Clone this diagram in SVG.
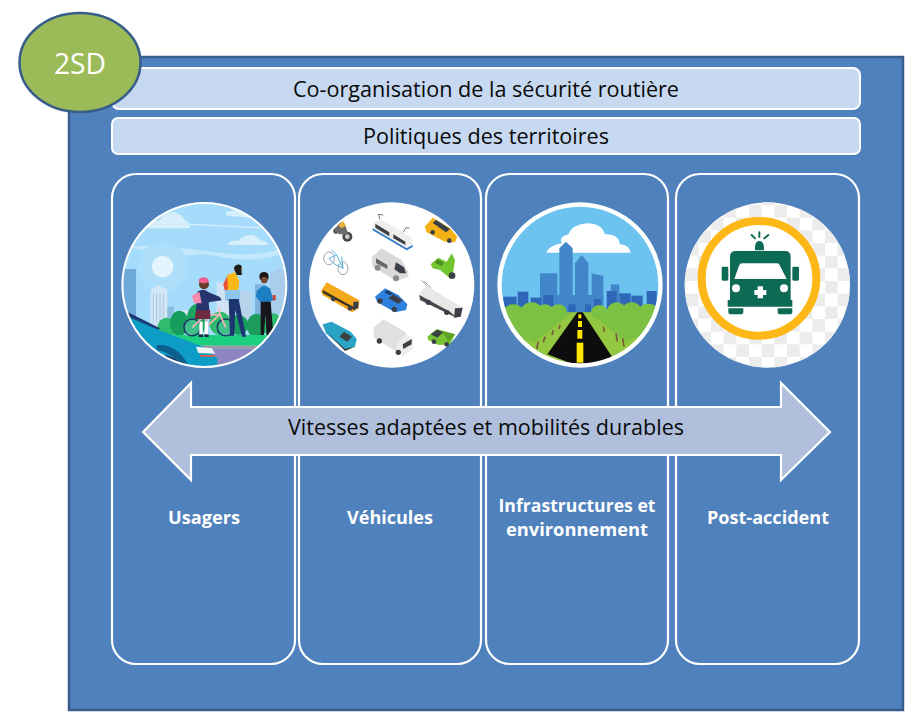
<svg xmlns="http://www.w3.org/2000/svg" width="911" height="718" viewBox="0 0 911 718">
<style>
.t{font-family:"Open Sans","Noto Sans","Liberation Sans",sans-serif;}
.bk{font-size:22px;fill:#0a0a0a;text-anchor:middle;}
.lb{font-size:18px;font-weight:700;fill:#fff;text-anchor:middle;}
.bar{fill:#c6d9f1;stroke:#fff;stroke-width:2;}
.col{fill:#4f81bd;stroke:#fff;stroke-width:2.2;}
.gl{fill:#3b3f46;}
.lg{fill:#e6e4e2;}
.wh{fill:#8b8b8b;}
.pic{filter:url(#soft);}
</style>
<defs>
<filter id="soft" x="-5%" y="-5%" width="110%" height="110%"><feGaussianBlur stdDeviation="1.4"/></filter>
<clipPath id="c1"><circle cx="283" cy="270" r="245"/></clipPath>
<clipPath id="c3"><circle cx="270" cy="270" r="235"/></clipPath>
<clipPath id="c4"><circle cx="277" cy="270" r="248"/></clipPath>
<pattern id="chk" x="222" y="30" width="76" height="76" patternUnits="userSpaceOnUse">
<rect width="38" height="38" fill="#ececec"/><rect x="38" y="38" width="38" height="38" fill="#ececec"/>
</pattern>
</defs>
<rect width="911" height="718" fill="#fff"/>
<g id="frame"><rect x="69" y="57" width="834" height="653" fill="#4f81bd" stroke="#385d8a" stroke-width="2.5"/></g>
<g id="bar-coorganisation"><rect class="bar" x="112" y="68" width="748" height="41" rx="7"/>
<text class="t bk" x="486" y="97" textLength="386" lengthAdjust="spacingAndGlyphs">Co-organisation de la sécurité routière</text></g>
<g id="bar-politiques"><rect class="bar" x="112" y="118" width="748" height="36" rx="6"/>
<text class="t bk" x="486" y="144" textLength="246" lengthAdjust="spacingAndGlyphs">Politiques des territoires</text></g>

<g id="col-usagers"><rect class="col" x="112" y="174" width="183" height="490" rx="24"/>
<text class="t lb" x="204" y="524" textLength="72" lengthAdjust="spacingAndGlyphs">Usagers</text>
<g transform="translate(110 195) scale(.33333)">
<g clip-path="url(#c1)"><g class="pic">
<rect x="30" y="20" width="510" height="500" fill="#a5dcfb"/>
<path d="M40 155C120 165 170 190 250 180S370 215 510 180L520 160C420 190 350 175 260 165S120 150 40 155Z" fill="#c4e8fb"/>
<circle cx="158" cy="215" r="75" fill="#aedffa"/><circle cx="158" cy="215" r="32" fill="#e2f4fc"/>
<path d="M100 100Q115 75 150 76Q165 50 195 52Q220 62 222 76Q240 78 240 100Z" fill="#d6effb"/>
<path d="M240 88L450 98" stroke="#d6effb" stroke-width="4"/>
<path d="M353 150Q360 135 385 137Q400 118 430 120Q450 130 452 136Q470 138 473 150Z" fill="#d6effb"/>
<path d="M347 52Q380 40 395 55L425 68 350 62Z" fill="#d6effb"/>
<rect x="40" y="222" width="38" height="170" fill="#6ea9da"/>
<rect x="480" y="235" width="45" height="120" fill="#aacdec"/><path d="M480 235L510 218 525 235Z" fill="#aacdec"/>
<rect x="435" y="268" width="22" height="110" fill="#7fb3dc"/>
<rect x="320" y="262" width="40" height="130" fill="#cfe3f3"/><rect x="385" y="288" width="40" height="100" fill="#b7d4ec"/>
<path d="M122 285L145 270 172 285V395H122Z" fill="#d3e6f5"/>
<path d="M130 295V385M140 295V385M150 295V385M160 295V385" stroke="#a8c8e4" stroke-width="3"/>
<rect x="172" y="335" width="20" height="60" fill="#8fbde2"/>
<rect x="205" y="345" width="40" height="60" fill="#d3e6f5"/>
<ellipse cx="170" cy="400" rx="28" ry="32" fill="#2dbb6c"/>
<ellipse cx="208" cy="385" rx="28" ry="38" fill="#169c5b"/>
<ellipse cx="260" cy="375" rx="30" ry="48" fill="#1fa561"/>
<ellipse cx="330" cy="385" rx="32" ry="35" fill="#2dbb6c"/>
<ellipse cx="385" cy="390" rx="30" ry="30" fill="#169c5b"/>
<ellipse cx="440" cy="392" rx="30" ry="36" fill="#1b9c5d"/>
<ellipse cx="490" cy="395" rx="28" ry="40" fill="#2dbb6c"/>
<rect x="140" y="420" width="400" height="32" fill="#1ccf7e"/>
<rect x="240" y="452" width="300" height="8" fill="#9a9a9a"/>
<rect x="240" y="460" width="300" height="60" fill="#8d86c0"/>
<g fill="none" stroke="#1f3a6b" stroke-width="5"><circle cx="247" cy="397" r="25"/><circle cx="347" cy="397" r="25"/></g>
<g fill="#3fbf8a"><circle cx="247" cy="397" r="22"/><circle cx="347" cy="397" r="22"/></g>
<path d="M247 397L285 360 330 358 347 397M285 360L290 395 330 358M330 358L326 340" fill="none" stroke="#f5b7b5" stroke-width="5"/>
<rect x="268" y="380" width="10" height="42" fill="#fff"/><rect x="284" y="380" width="10" height="42" fill="#fff"/>
<rect x="266" y="418" width="13" height="8" fill="#20284c"/><rect x="283" y="418" width="13" height="8" fill="#20284c"/>
<path d="M258 345L300 345 302 372 254 372Z" fill="#6d2b3f"/>
<path d="M262 290Q282 278 296 292L330 306 335 316 296 322 298 346H258Z" fill="#27356f"/>
<path d="M246 302L268 290 275 325H252Z" fill="#f38cb0"/>
<circle cx="282" cy="268" r="15" fill="#6b3c2a"/><ellipse cx="281" cy="256" rx="15" ry="9" fill="#ec5f8f"/>
<path d="M340 268L352 242 362 310 345 290Z" fill="#e94f35"/>
<path d="M352 240L375 232 388 258 382 310 354 305Z" fill="#fbb718"/>
<rect x="345" y="285" width="45" height="32" fill="#8cc6ee"/>
<path d="M356 312L386 312 408 425 396 425 376 345 372 422 360 422Z" fill="#1f3470"/>
<circle cx="384" cy="222" r="12" fill="#a36a46"/><path d="M372 218Q380 203 395 212L393 222 396 240 380 240Z" fill="#1b1b1f"/>
<path d="M440 288L462 270 480 280 490 315 478 322 452 322 438 305Z" fill="#1d7fc4"/>
<rect x="488" y="300" width="9" height="16" fill="#c4453a"/>
<path d="M452 320L482 320 490 420 470 420 466 360 462 420 452 420Z" fill="#14151c"/>
<circle cx="462" cy="245" r="14" fill="#1a1414"/><circle cx="463" cy="255" r="10" fill="#7b4a30"/>
<path d="M30 340L150 400 110 430 30 400Z" fill="#1f3a78"/>
<path d="M55 365L130 398 200 425 280 455 322 490V520H40Z" fill="#0b9cc6"/>
<path d="M140 450Q200 445 235 510L215 520Q195 475 140 465Z" fill="#0d5f8e"/>
<path d="M150 480Q195 478 225 520H140Z" fill="#15264f"/>
<path d="M258 455L305 460 316 476 265 474Z" fill="#f2f5f7"/><rect x="270" y="480" width="45" height="5" fill="#ef5a38"/>
</g></g>
<circle cx="283" cy="270" r="246" fill="none" stroke="#fff" stroke-width="6"/>
</g></g>

<g id="col-vehicules"><rect class="col" x="299" y="174" width="182" height="490" rx="24"/>
<text class="t lb" x="390" y="524" textLength="86" lengthAdjust="spacingAndGlyphs">Véhicules</text>
<g transform="translate(300 195) scale(.33333)">
<circle cx="275" cy="270" r="248" fill="#fff"/>
<g class="pic">
<circle cx="142" cy="125" r="15" fill="#4a4a4a"/><circle cx="142" cy="125" r="7" fill="#ccc"/><circle cx="108" cy="108" r="8" fill="#4a4a4a"/>
<path d="M100 105L122 82 136 92 145 118 118 118Z" fill="#6a6a6a"/><path d="M115 90L130 78 138 92 124 100Z" fill="#e8b23c"/>
<path d="M218 85L240 72 335 128 338 150 320 162 218 102Z" fill="#efeeed"/>
<path d="M218 100L320 160 338 150 338 156 320 166 218 106Z" fill="#2f78c8"/>
<path d="M226 86L268 112 268 124 226 98ZM280 118L316 140 316 150 280 130Z" class="gl"/>
<path d="M240 72L235 58 250 60M310 112L318 98 328 100" stroke="#555" stroke-width="2.5" fill="none"/>
<path d="M374 95L398 68 450 100 472 125 465 142 435 140 380 112Z" fill="#f5b014"/>
<path d="M398 84L408 74 450 102 438 112Z" class="gl"/>
<circle cx="398" cy="112" r="7" class="gl"/><circle cx="448" cy="137" r="7" class="gl"/>
<g fill="none" stroke="#9aa3ab" stroke-width="3"><ellipse cx="87" cy="190" rx="16" ry="19"/><ellipse cx="129" cy="220" rx="15" ry="19"/></g>
<path d="M87 190L110 180 129 220 100 205ZM95 165L110 180M125 185L129 220" fill="none" stroke="#5ab5dd" stroke-width="3"/>
<path d="M215 187L245 160 305 195 325 230 325 245 290 258 218 215Z" fill="#dcdad8"/>
<path d="M283 223L288 202 312 217 318 235 300 235Z" class="gl"/>
<path d="M228 190L262 210 262 222 228 204Z" class="gl" opacity=".75"/>
<circle cx="233" cy="218" r="9" class="wh"/><circle cx="288" cy="250" r="9" class="wh"/>
<path d="M392 208L415 188 440 200 455 175 465 195 458 240 468 245 450 250 420 225 398 220Z" fill="#72c52f"/>
<circle cx="456" cy="242" r="10" class="gl"/><path d="M412 192L432 203 425 214 405 203Z" fill="#4b8f20"/>
<path d="M63 288L80 262 178 316 176 340 156 352 68 300Z" fill="#f4a91e"/>
<path d="M68 285L165 338 165 346 68 294Z" fill="#3b3222"/>
<path d="M160 320L176 320 174 340 160 345Z" class="gl"/>
<circle cx="100" cy="312" r="7" class="gl"/><circle cx="150" cy="340" r="7" class="gl"/>
<path d="M225 305L255 280 295 300 322 328 318 345 285 352 232 322Z" fill="#2f80dc"/>
<path d="M265 310L280 298 308 316 295 326Z" class="gl"/>
<path d="M252 290L264 286 280 296 268 300Z" fill="#16416f"/>
<circle cx="240" cy="318" r="8" class="gl"/><circle cx="283" cy="343" r="8" class="gl"/>
<path d="M358 295L380 272 488 338 482 365 462 368 360 312Z" fill="#e9e8e7"/>
<path d="M358 300L450 350 470 368 360 315Z" fill="#45484e"/>
<path d="M465 340L488 338 482 365 462 368Z" class="gl"/>
<path d="M380 272L365 256M392 278L372 258" stroke="#888" stroke-width="2.5"/>
<circle cx="385" cy="322" r="8" class="gl"/><circle cx="440" cy="352" r="8" class="gl"/>
<path d="M68 388L95 380 152 410 170 432 165 455 135 465 78 415Z" fill="#2aa4c4"/>
<path d="M118 425L132 410 156 425 142 440Z" class="gl"/>
<path d="M80 412L135 462 165 455 135 468Z" fill="#3a3a3a"/>
<path d="M220 398L250 373 318 412 318 452 290 470 222 428Z" fill="#e2e0de"/>
<path d="M290 445L318 418 338 430 338 462 310 482 290 468Z" fill="#eeedec"/>
<path d="M308 448L335 432 335 448 310 462Z" class="gl"/>
<circle cx="238" cy="438" r="8" class="gl"/><circle cx="295" cy="472" r="8" class="gl"/>
<path d="M382 425L410 402 465 418 450 448 415 450 385 435Z" fill="#77c431"/>
<path d="M392 418L412 404 430 412 412 428Z" class="gl"/>
<path d="M425 408L465 418 445 440Z" fill="#5ca325"/>
<circle cx="402" cy="440" r="7" class="gl"/><circle cx="440" cy="448" r="7" class="gl"/>
</g></g></g>

<g id="col-infrastructures"><rect class="col" x="486" y="174" width="182" height="490" rx="24"/>
<text class="t lb" x="577" y="512" textLength="157" lengthAdjust="spacingAndGlyphs">Infrastructures et</text>
<text class="t lb" x="577" y="536" textLength="142" lengthAdjust="spacingAndGlyphs">environnement</text>
<g transform="translate(490 195) scale(.33333)">
<circle cx="270" cy="270" r="248" fill="#fff"/>
<g clip-path="url(#c3)"><g class="pic">
<rect x="30" y="30" width="480" height="480" fill="#6cc3f0"/>
<path d="M168 173Q180 150 215 145Q205 125 235 118Q245 90 290 85Q335 85 345 118Q385 115 390 148Q418 150 422 173Z" fill="#fff"/>
<g fill="#3f86c9">
<rect x="150" y="235" width="52" height="110"/>
<path d="M208 160L228 140 248 160V340H208Z"/>
<path d="M255 205L275 180 295 205V340H255Z"/>
<path d="M305 235L340 243V340H305Z"/>
<rect x="362" y="268" width="26" height="70"/>
<rect x="200" y="300" width="140" height="60"/>
</g>
<g fill="#2f66b8">
<rect x="40" y="305" width="40" height="40"/><rect x="83" y="290" width="32" height="55"/><rect x="122" y="308" width="32" height="40"/><rect x="160" y="300" width="30" height="50"/>
<rect x="235" y="328" width="22" height="30"/><rect x="285" y="328" width="18" height="28"/><rect x="312" y="312" width="22" height="36"/>
<rect x="350" y="288" width="30" height="55"/><rect x="388" y="295" width="34" height="50"/><rect x="424" y="302" width="34" height="45"/><rect x="470" y="288" width="30" height="55"/>
</g>
<path d="M30 352H510V515H30Z" fill="#93c83f"/>
<g fill="#7cc142">
<ellipse cx="70" cy="360" rx="35" ry="32"/><ellipse cx="125" cy="355" rx="35" ry="33"/><ellipse cx="165" cy="358" rx="30" ry="30"/><ellipse cx="205" cy="350" rx="25" ry="22"/>
<ellipse cx="328" cy="352" rx="25" ry="22"/><ellipse cx="380" cy="352" rx="30" ry="30"/><ellipse cx="425" cy="355" rx="32" ry="33"/><ellipse cx="475" cy="358" rx="35" ry="32"/>
<path d="M30 355H245L135 440 100 432 50 405ZM300 352H510L495 405 405 442Z"/>
</g>
<g stroke="#7a5a3a" stroke-width="5"><path d="M145 440L140 462M165 425L160 442M190 405L186 420M210 390L207 402M378 415L382 440M398 430L402 455M340 395L343 410"/></g>
<path d="M262 352H278L368 488 270 515 172 478Z" fill="#0a0a0a"/>
<g fill="#ffe600"><rect x="265" y="358" width="9" height="12"/><rect x="264" y="378" width="12" height="18"/><rect x="262" y="405" width="15" height="26"/><rect x="260" y="443" width="20" height="60"/></g>
</g></g>
</g></g>

<g id="col-post-accident"><rect class="col" x="676" y="174" width="183" height="490" rx="24"/>
<text class="t lb" x="768" y="524" textLength="122" lengthAdjust="spacingAndGlyphs">Post-accident</text>
<g transform="translate(675 195) scale(.33333)">
<circle cx="277" cy="270" r="248" fill="#fff"/>
<circle cx="277" cy="270" r="248" fill="url(#chk)"/>
<g class="pic">
<circle cx="252" cy="250" r="172" fill="#fff" stroke="#fdb714" stroke-width="24"/>
<g fill="#0f6b54">
<path d="M165 185Q165 168 182 168H330Q347 168 347 185V315H352V335H158V315H165Z"/>
<path d="M240 166Q238 138 253 138Q268 138 267 166Z"/>
<rect x="140" y="215" width="20" height="42" rx="4"/><rect x="352" y="215" width="20" height="42" rx="4"/>
<path d="M160 340H205V350Q205 358 197 358H168Q160 358 160 350ZM308 340H352V350Q352 358 344 358H316Q308 358 308 350Z"/>
</g>
<path d="M178 252L192 212Q194 205 202 205H305Q313 205 315 212L335 252Z" fill="#fff"/>
<circle cx="183" cy="280" r="12" fill="#fff"/><circle cx="327" cy="280" r="12" fill="#fff"/>
<path d="M248 274H264V285H274V300H264V310H248V300H238V285H248Z" fill="#fff"/>
<path d="M230 120L240 130M253 112V126M280 120L268 130" stroke="#0f6b54" stroke-width="6" stroke-linecap="round"/>
</g>
</g></g>

<g id="connectors">
<path d="M143 432L191 383V407H781V383L830 432 781 480V455H191V480Z" fill="#b0c0dc" stroke="#fff" stroke-width="2.2" stroke-linejoin="miter"/>
<text class="t bk" x="486" y="435" textLength="396" lengthAdjust="spacingAndGlyphs">Vitesses adaptées et mobilités durables</text>
</g>

<g id="badge-2sd"><ellipse cx="80" cy="62.5" rx="60.5" ry="49.5" fill="#9bbb59" stroke="#385d8a" stroke-width="2.5"/>
<text class="t" x="80" y="74" font-size="29" fill="#fff" text-anchor="middle" textLength="52" lengthAdjust="spacingAndGlyphs">2SD</text></g>
</svg>
